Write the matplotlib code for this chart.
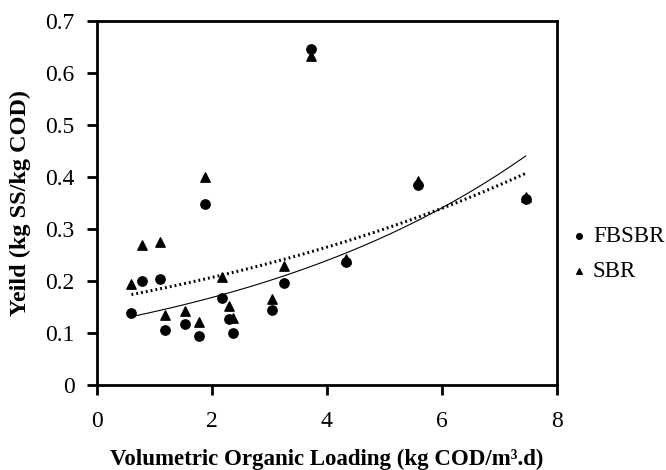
import numpy as np
import matplotlib
matplotlib.use('Agg')
import matplotlib.pyplot as plt

plt.rcParams['font.family'] = ['Liberation Serif', 'DejaVu Serif']

# FBSBR (circles)
fb_x = [0.60, 0.78, 1.10, 1.19, 1.54, 1.77, 1.88, 2.18, 2.30, 2.36, 3.05, 3.25, 3.73, 4.33, 5.59, 7.46]
fb_y = [0.139, 0.200, 0.204, 0.105, 0.117, 0.095, 0.349, 0.168, 0.127, 0.100, 0.144, 0.196, 0.647, 0.236, 0.385, 0.358]

# SBR (triangles)
sb_x = [0.60, 0.78, 1.10, 1.19, 1.54, 1.77, 1.88, 2.17, 2.30, 2.37, 3.05, 3.25, 3.73, 4.33, 5.59, 7.46]
sb_y = [0.194, 0.270, 0.275, 0.135, 0.142, 0.122, 0.400, 0.207, 0.152, 0.128, 0.165, 0.229, 0.633, 0.242, 0.393, 0.362]

x_ticks = [0, 2, 4, 6, 8]
y_ticks = [0, 0.1, 0.2, 0.3, 0.4, 0.5, 0.6, 0.7]
y_tick_labels = ['0', '0.1', '0.2', '0.3', '0.4', '0.5', '0.6', '0.7']

fig = plt.figure(figsize=(6.66, 4.70), dpi=100)
ax = fig.add_axes([0.1456, 0.181, 0.6904, 0.774])

ax.scatter(fb_x, fb_y, marker='o', s=45, color='black', label='FBSBR', zorder=3)
ax.scatter(sb_x, sb_y, marker='^', s=45, color='black', label='SBR', zorder=3)

# exponential trendlines (like excel)
xx = np.linspace(min(fb_x), max(fb_x), 100)
b1, a1 = np.polyfit(fb_x, np.log(fb_y), 1)
b2, a2 = np.polyfit(sb_x, np.log(sb_y), 1)
ax.plot(xx, np.exp(a1) * np.exp(b1 * xx), color='black', lw=0.8)
ax.plot(xx, np.exp(a2) * np.exp(b2 * xx), color='black', lw=2.2, linestyle=(0, (0.6, 1.0)))

ax.set_xlim(0, 8)
ax.set_ylim(0, 0.7)
ax.set_xticks(x_ticks)
ax.set_yticks(y_ticks)
ax.set_yticklabels(y_tick_labels)
ax.tick_params(direction='out', length=7, width=2, labelsize=17)
ax.tick_params(axis='x', pad=12)
ax.tick_params(axis='y', pad=9)
for sp in ax.spines.values():
    sp.set_linewidth(2)

ax.set_xlabel('Volumetric Organic Loading (kg COD/m³.d)', fontsize=16.5, fontweight='bold', labelpad=12)
ax.set_ylabel('Yeild (kg SS/kg COD)', fontsize=17.5, fontweight='bold', labelpad=10)

fig.legend(loc='upper left', bbox_to_anchor=(570 / 666, 1 - 226 / 470), frameon=False, fontsize=16.5,
           markerscale=0.6, handlelength=0.8, handletextpad=0.2, labelspacing=0.62,
           borderpad=0, borderaxespad=0)

fig.savefig('out.png', dpi=100)
